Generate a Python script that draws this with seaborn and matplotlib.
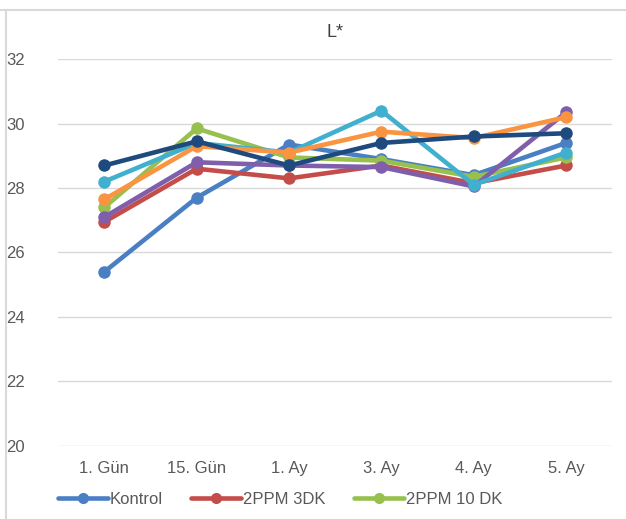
import numpy as np
import pandas as pd
import seaborn as sns
import matplotlib.pyplot as plt

# time points
days = ['1. Gün', '15. Gün', '1. Ay', '3. Ay', '4. Ay', '5. Ay']

# L* values per group
kontrol = [25.4, 27.7, 29.35, 28.9, 28.4, 29.4]
ppm2_3dk = [26.95, 28.6, 28.3, 28.7, 28.15, 28.7]
ppm2_10dk = [27.4, 29.85, 28.95, 28.85, 28.35, 28.95]
seri4 = [27.1, 28.8, 28.7, 28.65, 28.05, 30.35]
seri5 = [28.2, 29.4, 29.1, 30.4, 28.1, 29.1]
seri6 = [27.65, 29.3, 29.1, 29.75, 29.55, 30.2]
seri7 = [28.7, 29.45, 28.7, 29.4, 29.6, 29.7]

names = ['Kontrol', '2PPM 3DK', '2PPM 10 DK', 'Seri 4', 'Seri 5', 'Seri 6', 'Seri 7']
series = [kontrol, ppm2_3dk, ppm2_10dk, seri4, seri5, seri6, seri7]
colors = ['#4a7fc4', '#c44d4a', '#97c04f', '#7f5fab', '#41b0cf', '#fa9440', '#1f4a7d']

df = pd.DataFrame([
    {'gun': d, 'L': v, 'grup': n}
    for n, vals in zip(names, series)
    for d, v in zip(days, vals)
])

sns.set_style('white')
plt.rcParams['font.family'] = ['Liberation Sans', 'DejaVu Sans']

fig = plt.figure(figsize=(6.26, 5.19), dpi=100)
ax = fig.add_axes([0.093, 0.141, 0.885, 0.745])

sns.lineplot(data=df, x='gun', y='L', hue='grup', hue_order=names,
             palette=colors, marker='o', markersize=9, markeredgewidth=0,
             linewidth=3.3, sort=False, ax=ax, legend=False)

ax.set_xlim(-0.5, 5.5)
ax.set_ylim(20, 32)
ax.set_yticks(np.arange(20, 33, 2))
ax.yaxis.grid(True, color='#d9d9d9', linewidth=1)
ax.set_axisbelow(True)
for s in ax.spines.values():
    s.set_visible(False)
ax.tick_params(axis='both', length=0, labelsize=12, labelcolor='#595959')
ax.tick_params(axis='y', pad=24)
ax.tick_params(axis='x', pad=11)
ax.set_xlabel('')
ax.set_ylabel('')
ax.set_title('L*', fontsize=13, color='#404040', pad=16)

# chart frame remnants (top and left)
fig.add_artist(plt.Line2D([0, 1], [1 - 10 / 519] * 2, color='#d9d9d9', linewidth=1.5))
fig.add_artist(plt.Line2D([6 / 626] * 2, [0, 1 - 10 / 519], color='#d9d9d9', linewidth=1.5))

handles = [plt.Line2D([], [], color=c, marker='o', markersize=8, linewidth=3.3,
                      markeredgewidth=0) for c in colors[:3]]
fig.legend(handles, names[:3], loc='center left', bbox_to_anchor=(0.093, 0.037),
           ncol=3, frameon=False, fontsize=12, labelcolor='#595959',
           handlelength=3.0, handletextpad=0.1, columnspacing=1.7, borderaxespad=0,
           borderpad=0)

fig.savefig('out.png', dpi=100)
